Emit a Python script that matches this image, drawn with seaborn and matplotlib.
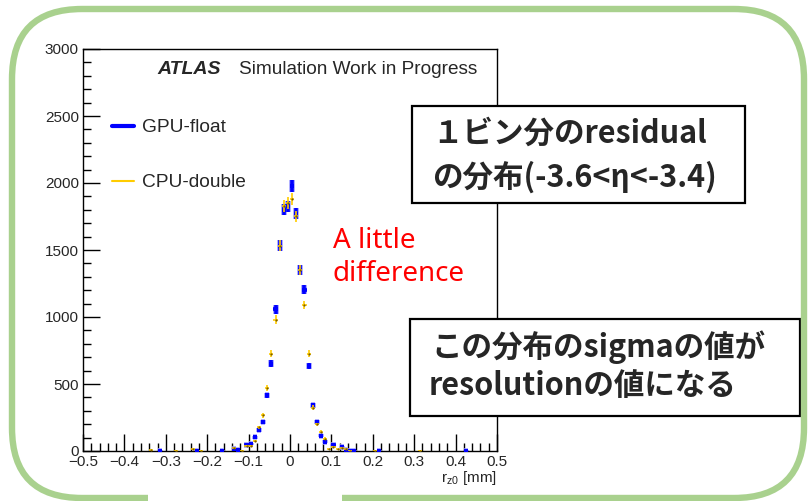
import numpy as np
import pandas as pd
import matplotlib
matplotlib.use("Agg")
import matplotlib.pyplot as plt
import seaborn as sns
from matplotlib.patches import Rectangle, FancyBboxPatch
from matplotlib.lines import Line2D
from matplotlib.ticker import MultipleLocator
from matplotlib.transforms import IdentityTransform

# ---------------- data ----------------
bin_centers = [-0.335, -0.315, -0.275, -0.235, -0.225, -0.215, -0.165, -0.135, -0.125, -0.115,
               -0.105, -0.095, -0.085, -0.075, -0.065, -0.055, -0.045, -0.035, -0.025, -0.015,
               -0.005, 0.005, 0.015, 0.025, 0.035, 0.045, 0.055, 0.065, 0.075, 0.085,
               0.095, 0.105, 0.115, 0.125, 0.135, 0.145, 0.155, 0.205, 0.215, 0.315, 0.425]
gpu_float = [0, 3, 0, 0, 3, 0, 3, 18, 8, 0,
             45, 53, 103, 158, 214, 416, 652, 1058, 1532, 1800,
             1825, 1975, 1770, 1352, 1203, 634, 340, 218, 115, 70,
             0, 45, 0, 30, 8, 3, 3, 0, 3, 0, 3]
cpu_double = [10, 0, 3, 12, 0, 3, 0, 20, 0, 3,
              40, 40, 77, 176, 266, 471, 727, 980, 1532, 1830,
              1850, 1880, 1752, 1352, 1090, 727, 322, 198, 144, 92,
              13, 30, 13, 20, 13, 3, 0, 3, 0, 3, 0]
bin_half_width = 0.005
series_names = ["GPU-float", "CPU-double"]
x_ticks = [-0.5, -0.4, -0.3, -0.2, -0.1, 0, 0.1, 0.2, 0.3, 0.4, 0.5]
y_ticks = [0, 500, 1000, 1500, 2000, 2500, 3000]

# ---------------- style ----------------
sns.set_theme(style="white")
plt.rcParams["font.family"] = ["Liberation Sans", "DejaVu Sans"]
plt.rcParams["mathtext.fontset"] = "custom"
plt.rcParams["mathtext.rm"] = "Liberation Sans"
plt.rcParams["mathtext.it"] = "Liberation Sans:italic"

W, H = 808, 501
fig = plt.figure(figsize=(W / 100, H / 100), dpi=100)
fig.patch.set_facecolor("white")

def fx(px):
    return px / W

def fy(py):
    return 1 - py / H

ax_l, ax_r, ax_t, ax_b = 83, 497, 49, 451
ax = fig.add_axes([fx(ax_l), fy(ax_b), (ax_r - ax_l) / W, (ax_b - ax_t) / H])
ax.set_facecolor("white")

df = pd.DataFrame({"x": bin_centers, "gpu": gpu_float, "cpu": cpu_double})
gpu = df[df.gpu > 0]
cpu = df[df.cpu > 0]

BLUE = "#0000ff"
GOLD = "#ffcc00"

# GPU-float: thick blue error bars (with light halo)
ax.errorbar(gpu.x, gpu.gpu, yerr=np.sqrt(gpu.gpu), xerr=bin_half_width, fmt="none",
            ecolor="#9a9aff", elinewidth=4.0, zorder=2)
ax.errorbar(gpu.x, gpu.gpu, yerr=np.sqrt(gpu.gpu), xerr=bin_half_width, fmt="none",
            ecolor=BLUE, elinewidth=2.6, zorder=3)
sns.scatterplot(x=gpu.x, y=gpu.gpu, ax=ax, marker="s", s=8, color=BLUE,
                linewidth=0, legend=False, zorder=3)

# CPU-double: thin gold error bars with dark centre dot
ax.errorbar(cpu.x, cpu.cpu, yerr=np.sqrt(cpu.cpu), xerr=bin_half_width, fmt="none",
            ecolor=GOLD, elinewidth=1.2, zorder=4)
sns.scatterplot(x=cpu.x, y=cpu.cpu, ax=ax, marker="o", s=2.5, color="#7a5d00",
                linewidth=0, legend=False, zorder=5)

ax.set_xlim(-0.5, 0.5)
ax.set_ylim(0, 3000)
ax.set_xticks(x_ticks)
ax.set_yticks(y_ticks)
ax.set_xticklabels([f"\u2212{abs(v):g}" if v < 0 else f"{v:g}" for v in x_ticks])
ax.set_yticklabels([str(v) for v in y_ticks])
ax.xaxis.set_minor_locator(MultipleLocator(0.02))
ax.yaxis.set_minor_locator(MultipleLocator(100))
ax.tick_params(which="major", direction="in", length=12, width=1, color="black",
               labelsize=11, pad=3, bottom=True, left=True, top=False, right=False)
ax.tick_params(which="minor", direction="in", length=6, width=1, color="black",
               bottom=True, left=True, top=False, right=False)
for s in ax.spines.values():
    s.set_color("black")
    s.set_linewidth(1)
ax.set_xlabel("")
ax.set_ylabel("")

fig.text(fx(ax_r), fy(478), r"r$_{\mathregular{z0}}$ [mm]", ha="right", va="center",
         fontsize=11)

# ATLAS label
fig.text(fx(157), fy(70), "ATLAS", fontsize=14, fontweight="bold", fontstyle="italic",
         ha="left", va="center")
fig.text(fx(239), fy(70), "Simulation Work in Progress", fontsize=13.7, ha="left", va="center")

# legend
handles = [Line2D([], [], color=BLUE, lw=3.0), Line2D([], [], color=GOLD, lw=1.5)]
leg = ax.legend(handles, series_names, loc="upper left", frameon=False,
                bbox_to_anchor=(fx(112), fy(119)), bbox_transform=fig.transFigure,
                borderaxespad=0, borderpad=0, handlelength=1.15, handletextpad=0.4,
                labelspacing=1.95, fontsize=13.8)

# red annotation
fig.text(fx(333), fy(241), "A little", color="#ff0000", fontsize=20,
         family=["Noto Sans", "DejaVu Sans"], ha="left", va="center")
fig.text(fx(333), fy(274), "difference", color="#ff0000", fontsize=20,
         family=["Noto Sans", "DejaVu Sans"], ha="left", va="center")

# Japanese boxes
jp = ["Noto Sans CJK JP", "DejaVu Sans"]
for (x0, y0, x1, y1) in [(412, 106, 745, 203), (410, 319, 800, 416)]:
    fig.add_artist(Rectangle((fx(x0), fy(y1)), fx(x1) - fx(x0), fy(y0) - fy(y1),
                             transform=fig.transFigure, facecolor="white",
                             edgecolor="black", linewidth=1.6, zorder=5))
for (px, py, s) in [(432, 134, "１ビン分のresidual"), (432, 177, "の分布(-3.6<η<-3.4)"),
                    (431, 347, "この分布のsigmaの値が"), (429, 386, "resolutionの値になる")]:
    fig.text(fx(px), fy(py), s, family=jp, fontweight="bold", fontsize=22,
             ha="left", va="center", zorder=6)

# green rounded frame
ident = IdentityTransform()
fl, fr, ft, fb = 12, 804, 9, 498
frame = FancyBboxPatch((fl, H - fb), fr - fl, fb - ft,
                       boxstyle="round,pad=0,rounding_size=70",
                       transform=ident, facecolor="none", edgecolor="#a9d18e",
                       linewidth=4.6, zorder=7)
fig.add_artist(frame)
fig.add_artist(Rectangle((148, 0), 342 - 148, 8, transform=ident,
                         facecolor="white", edgecolor="none", zorder=8))

fig.savefig("out.png", dpi=100)
